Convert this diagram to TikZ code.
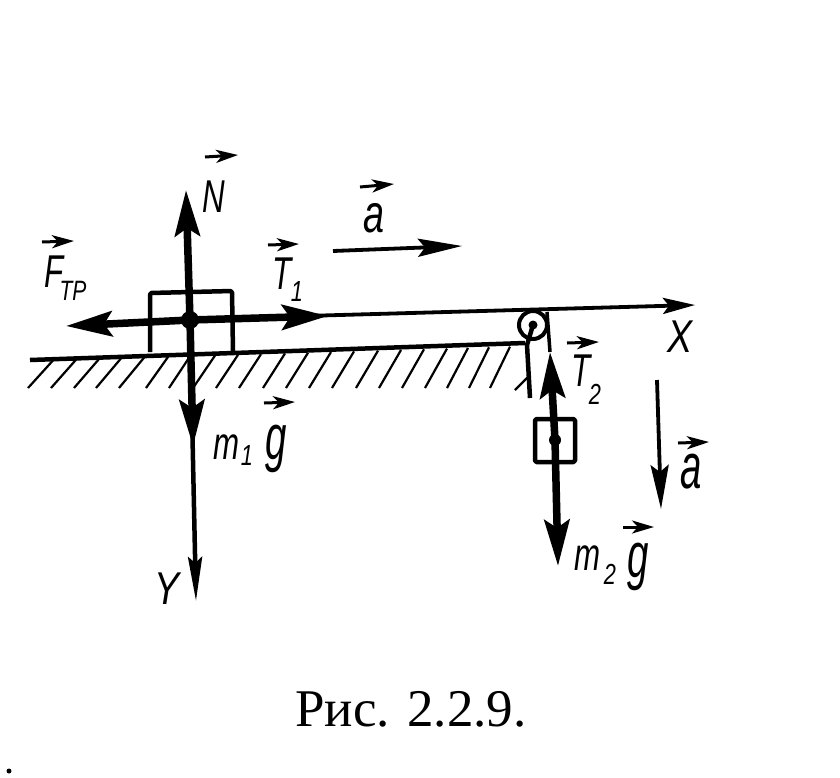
\documentclass[tikz,border=0pt]{standalone}
\usepackage{fontspec}
\setmainfont{Liberation Serif}
\newfontfamily\lblfont{Liberation Sans}[ItalicFont={Liberation Sans Italic}]
\usetikzlibrary{arrows.meta}
\tikzset{
 lbl/.style={inner sep=0pt,font=\lblfont\itshape\fontsize{46}{46}\selectfont,xscale=.68,transform shape},
 big/.style={inner sep=0pt,font=\lblfont\itshape\fontsize{64}{64}\selectfont,xscale=.6,transform shape},
 topa/.style={inner sep=0pt,font=\lblfont\itshape\fontsize{54}{54}\selectfont,xscale=.7,transform shape},
 sub/.style={inner sep=0pt,font=\lblfont\itshape\fontsize{29}{29}\selectfont,xscale=.75,transform shape},
 force/.style={line width=7.5pt,-{Stealth[length=46pt,width=25pt,inset=8pt]}},
 thinv/.style={line width=3.8pt,-{Stealth[length=44pt,width=18pt,inset=7pt]}},
 vecar/.style={line width=3pt,-{Stealth[length=22pt,width=13pt,inset=6pt]}},
 body/.style={line width=4.5pt,line join=round,rounded corners=1.5pt},
 hatchl/.style={line width=2.2pt},
}
\begin{document}
\begin{tikzpicture}[x=1pt,y=-1pt]
\useasboundingbox (0,0) rectangle (840,777);
% named points
\coordinate (c1) at (190,320);
\coordinate (gl) at (30,360);
\coordinate (gr) at (525,343);
\coordinate (pc) at (533,325);
% ground and hatching
\draw[line width=4.5pt] (gl) -- (gr);
\foreach \a/\b in {28/53,51/76,74/99,96/121,119/144,146/168,169/190,193/215,216/238,239/261,263/285,286/308,309/331,332/354,356/378,379/401,402/424,425/447,447/468,469/489,490/510}
  \draw[hatchl] (\a,388) -- (\b,361-\b*0.03+1);
\draw[hatchl] (515,390) -- (528,377);
% wall
\draw[line width=4.5pt] (pc) -- (527,345) -- (530,398);
% pulley
\node[circle,draw,line width=4pt,minimum size=28pt,inner sep=0pt] (pulley) at (pc) {};
\fill (pc) circle (4.5pt);
% block 1
\draw[body] (150,352) -- (150,293) -- (232,291) -- (233,352);
% block 2
\draw[body] (535,419) rectangle (575,462);
% forces on block 1
\coordinate (ntip) at (186,190);
\coordinate (ftip) at (66,326);
\coordinate (ttip) at (328,316);
\coordinate (gtip) at (193,446);
\coordinate (ytip) at (196,601);
\coordinate (xtip) at (695,305);
\draw[line width=4.5pt,-{Stealth[length=44pt,width=14pt,inset=6pt]}] (c1) -- (ytip);
\draw[line width=3.8pt,-{Stealth[length=32pt,width=16pt,inset=6pt]}] (233,318) -- (xtip);
\draw[force] (c1) -- (ntip);
\draw[force] (c1) -- (ftip);
\draw[force] (c1) -- (ttip);
\draw[force] (c1) -- (gtip);
\fill (c1) circle (9pt);
% rope and block 2 forces
\coordinate (c2) at (555,440);
\coordinate (t2tip) at (550,352);
\coordinate (m2tip) at (558,566);
\coordinate (rope) at (547,312);
\draw[line width=3.5pt] (rope) -- (t2tip);
\draw[force] (c2) -- (t2tip);
\draw[force] (c2) -- (m2tip);
\fill (c2) circle (6pt);
% acceleration arrows
\coordinate (a1s) at (333,251);
\coordinate (a1e) at (462,246);
\coordinate (a2s) at (657,380);
\coordinate (a2e) at (661,509);
\draw[thinv] (a1s) -- (a1e);
\draw[thinv] (a2s) -- (a2e);
% labels
\node[lbl] (N) at (214,197) {N};
\node[lbl] (F) at (54,272) {F};
\node[sub,font=\lblfont\itshape\fontsize{28}{28}\selectfont] (TP) at (73,291) {TP};
\node[lbl] (T1) at (282,274) {T};
\node[sub] (one) at (297,292) {1};
\node[topa] (A1) at (374,218) {a};
\node[lbl] (M1) at (227,447) {m};
\node[sub] (mone) at (247,456) {1};
\node[big] (G1) at (276,449) {g};
\node[lbl,xscale=1.2] (X) at (680,337) {X};
\node[lbl,xscale=1.2] (Y) at (167,589) {Y};
\node[lbl] (T2) at (581,371) {T};
\node[sub] (two) at (595,394) {2};
\node[big] (A2) at (691,472) {a};
\node[lbl] (M2) at (588,558) {m};
\node[sub] (mtwo) at (610,574) {2};
\node[big] (G2) at (638,567) {g};
% vector signs
\draw[vecar] (205,157) -- (238,155);
\draw[vecar] (42,242) -- (74,241);
\draw[vecar] (268,245) -- (299,244);
\draw[vecar] (360,187) -- (394,184);
\draw[vecar] (264,403) -- (295,402);
\draw[vecar] (567,343) -- (599,342);
\draw[vecar] (678,443) -- (709,442);
\draw[vecar] (623,527) -- (654,527);
% caption
\node[inner sep=0pt,font=\fontsize{53}{53}\selectfont] (cap) at (411,709) {Рис. 2.2.9.};
\fill (9,771) circle (2.5pt);
\end{tikzpicture}
\end{document}
